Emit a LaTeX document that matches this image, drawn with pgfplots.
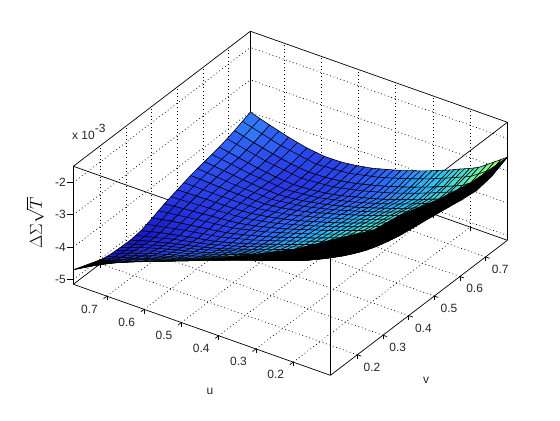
\documentclass[border=0pt]{standalone}
\usepackage{pgfplots}
\pgfplotsset{compat=1.18}
\usepackage{fontspec}
\setmainfont{Liberation Sans}

\begin{document}
\begin{tikzpicture}[x=1bp,y=1bp]
\path[use as bounding box] (0,0) rectangle (560,420);
\begin{axis}[name=ax,at={(330.4bp,162.7bp)},anchor=origin,
  x={(256.5bp,195.7bp)},y={(-372.5bp,131.9bp)},z={(0bp,32.33bp)},
  xmin=0.095,xmax=0.785,ymin=0.1,ymax=0.79,zmin=-5.15,zmax=-1.5,
  clip=false,
  /pgf/number format/assume math mode=true,
  xtick={0.2,0.3,0.4,0.5,0.6,0.7},ytick={0.2,0.3,0.4,0.5,0.6,0.7},ztick={-5,-4,-3,-2},
  tickpos=left,
  tick label style={font=\fontsize{12}{13}\selectfont,color=black!85},
  xticklabel style={xshift=3bp},yticklabel style={xshift=-9bp},
  grid=major,grid style={black,dash pattern=on 0.8bp off 2.8bp,line width=0.7bp},
  axis line style={line width=0.7bp},
  tick style={black,line width=0.7bp},
  ztick style={draw=none},
  tick align=outside,
  colormap={mine}{rgb255=(20,20,190) rgb255=(40,55,230) rgb255=(48,110,250) rgb255=(45,190,245)
    rgb255=(85,235,190) rgb255=(150,255,110) rgb255=(225,245,45) rgb255=(240,130,20) rgb255=(230,20,0)},
  point meta min=-5.15,point meta max=-1.5]
\draw[line width=0.7bp] (axis cs:0.095,0.79,-1.5)--(axis cs:0.095,0.1,-1.5)--(axis cs:0.785,0.1,-1.5);
\draw[line width=0.7bp] (axis cs:0.095,0.1,-5.15)--(axis cs:0.095,0.1,-1.5);
\draw[line width=0.7bp] (axis cs:0.095,0.79,-5)--++(-6bp,0bp);
\draw[line width=0.7bp] (axis cs:0.095,0.79,-4)--++(-6bp,0bp);
\draw[line width=0.7bp] (axis cs:0.095,0.79,-3)--++(-6bp,0bp);
\draw[line width=0.7bp] (axis cs:0.095,0.79,-2)--++(-6bp,0bp);
\addplot3[surf,shader=faceted,faceted color=black,line width=0.6bp,z buffer=sort,mesh/ordering=y varies,mesh/cols=17,mesh/rows=21] coordinates {
(.095,.1,-1.50)(.095,.117,-1.59)(.095,.135,-1.69)(.095,.155,-1.79)(.095,.177,-1.91)(.095,.201,-2.01)(.095,.228,-2.12)(.095,.255,-2.23)(.095,.286,-2.35)(.095,.317,-2.47)(.095,.35,-2.60)(.095,.386,-2.74)(.095,.424,-2.90)(.095,.462,-3.06)(.095,.504,-3.24)(.095,.546,-3.43)(.095,.591,-3.63)(.095,.638,-3.83)(.095,.687,-4.07)(.095,.738,-4.36)(.095,.79,-4.70)
(.119,.1,-1.63)(.119,.117,-1.72)(.119,.135,-1.83)(.119,.155,-1.93)(.119,.177,-2.05)(.119,.201,-2.15)(.119,.228,-2.27)(.119,.255,-2.38)(.119,.286,-2.50)(.119,.317,-2.62)(.119,.35,-2.75)(.119,.386,-2.90)(.119,.424,-3.06)(.119,.462,-3.22)(.119,.504,-3.40)(.119,.546,-3.58)(.119,.591,-3.78)(.119,.638,-3.97)(.119,.687,-4.20)(.119,.738,-4.48)(.119,.79,-4.80)
(.146,.1,-1.76)(.146,.117,-1.86)(.146,.135,-1.96)(.146,.155,-2.07)(.146,.177,-2.19)(.146,.201,-2.30)(.146,.228,-2.41)(.146,.255,-2.53)(.146,.286,-2.65)(.146,.317,-2.78)(.146,.35,-2.91)(.146,.386,-3.06)(.146,.424,-3.22)(.146,.462,-3.38)(.146,.504,-3.56)(.146,.546,-3.74)(.146,.591,-3.93)(.146,.638,-4.12)(.146,.687,-4.33)(.146,.738,-4.59)(.146,.79,-4.90)
(.175,.1,-1.89)(.175,.117,-1.99)(.175,.135,-2.10)(.175,.155,-2.21)(.175,.177,-2.34)(.175,.201,-2.44)(.175,.228,-2.56)(.175,.255,-2.68)(.175,.286,-2.80)(.175,.317,-2.93)(.175,.35,-3.07)(.175,.386,-3.21)(.175,.424,-3.37)(.175,.462,-3.53)(.175,.504,-3.71)(.175,.546,-3.89)(.175,.591,-4.07)(.175,.638,-4.25)(.175,.687,-4.45)(.175,.738,-4.69)(.175,.79,-4.98)
(.207,.1,-2.02)(.207,.117,-2.12)(.207,.135,-2.23)(.207,.155,-2.35)(.207,.177,-2.48)(.207,.201,-2.59)(.207,.228,-2.71)(.207,.255,-2.83)(.207,.286,-2.95)(.207,.317,-3.08)(.207,.35,-3.22)(.207,.386,-3.36)(.207,.424,-3.52)(.207,.462,-3.68)(.207,.504,-3.86)(.207,.546,-4.03)(.207,.591,-4.21)(.207,.638,-4.37)(.207,.687,-4.56)(.207,.738,-4.79)(.207,.79,-5.05)
(.241,.1,-2.15)(.241,.117,-2.25)(.241,.135,-2.37)(.241,.155,-2.48)(.241,.177,-2.62)(.241,.201,-2.73)(.241,.228,-2.85)(.241,.255,-2.97)(.241,.286,-3.10)(.241,.317,-3.23)(.241,.35,-3.37)(.241,.386,-3.52)(.241,.424,-3.67)(.241,.462,-3.83)(.241,.504,-4.00)(.241,.546,-4.17)(.241,.591,-4.34)(.241,.638,-4.49)(.241,.687,-4.66)(.241,.738,-4.86)(.241,.79,-5.10)
(.278,.1,-2.26)(.278,.117,-2.37)(.278,.135,-2.48)(.278,.155,-2.60)(.278,.177,-2.74)(.278,.201,-2.86)(.278,.228,-2.98)(.278,.255,-3.10)(.278,.286,-3.23)(.278,.317,-3.36)(.278,.35,-3.50)(.278,.386,-3.65)(.278,.424,-3.80)(.278,.462,-3.96)(.278,.504,-4.12)(.278,.546,-4.29)(.278,.591,-4.44)(.278,.638,-4.58)(.278,.687,-4.73)(.278,.738,-4.91)(.278,.79,-5.12)
(.317,.1,-2.36)(.317,.117,-2.47)(.317,.135,-2.59)(.317,.155,-2.71)(.317,.177,-2.86)(.317,.201,-2.97)(.317,.228,-3.09)(.317,.255,-3.22)(.317,.286,-3.35)(.317,.317,-3.48)(.317,.35,-3.62)(.317,.386,-3.77)(.317,.424,-3.92)(.317,.462,-4.08)(.317,.504,-4.24)(.317,.546,-4.40)(.317,.591,-4.54)(.317,.638,-4.67)(.317,.687,-4.80)(.317,.738,-4.95)(.317,.79,-5.13)
(.359,.1,-2.45)(.359,.117,-2.56)(.359,.135,-2.68)(.359,.155,-2.81)(.359,.177,-2.96)(.359,.201,-3.07)(.359,.228,-3.20)(.359,.255,-3.32)(.359,.286,-3.46)(.359,.317,-3.59)(.359,.35,-3.72)(.359,.386,-3.87)(.359,.424,-4.02)(.359,.462,-4.17)(.359,.504,-4.33)(.359,.546,-4.47)(.359,.591,-4.61)(.359,.638,-4.71)(.359,.687,-4.82)(.359,.738,-4.94)(.359,.79,-5.09)
(.403,.1,-2.52)(.403,.117,-2.63)(.403,.135,-2.76)(.403,.155,-2.88)(.403,.177,-3.03)(.403,.201,-3.15)(.403,.228,-3.27)(.403,.255,-3.39)(.403,.286,-3.52)(.403,.317,-3.65)(.403,.35,-3.79)(.403,.386,-3.93)(.403,.424,-4.07)(.403,.462,-4.22)(.403,.504,-4.36)(.403,.546,-4.49)(.403,.591,-4.61)(.403,.638,-4.69)(.403,.687,-4.77)(.403,.738,-4.85)(.403,.79,-4.96)
(.45,.1,-2.58)(.45,.117,-2.70)(.45,.135,-2.82)(.45,.155,-2.95)(.45,.177,-3.10)(.45,.201,-3.21)(.45,.228,-3.33)(.45,.255,-3.45)(.45,.286,-3.58)(.45,.317,-3.71)(.45,.35,-3.84)(.45,.386,-3.97)(.45,.424,-4.11)(.45,.462,-4.25)(.45,.504,-4.38)(.45,.546,-4.50)(.45,.591,-4.60)(.45,.638,-4.65)(.45,.687,-4.70)(.45,.738,-4.75)(.45,.79,-4.81)
(.5,.1,-2.65)(.5,.117,-2.77)(.5,.135,-2.89)(.5,.155,-3.02)(.5,.177,-3.18)(.5,.201,-3.29)(.5,.228,-3.41)(.5,.255,-3.53)(.5,.286,-3.65)(.5,.317,-3.78)(.5,.35,-3.91)(.5,.386,-4.04)(.5,.424,-4.17)(.5,.462,-4.30)(.5,.504,-4.42)(.5,.546,-4.52)(.5,.591,-4.60)(.5,.638,-4.64)(.5,.687,-4.65)(.5,.738,-4.66)(.5,.79,-4.68)
(.552,.1,-2.73)(.552,.117,-2.85)(.552,.135,-2.98)(.552,.155,-3.11)(.552,.177,-3.26)(.552,.201,-3.38)(.552,.228,-3.49)(.552,.255,-3.61)(.552,.286,-3.74)(.552,.317,-3.86)(.552,.35,-3.98)(.552,.386,-4.11)(.552,.424,-4.23)(.552,.462,-4.36)(.552,.504,-4.47)(.552,.546,-4.56)(.552,.591,-4.62)(.552,.638,-4.62)(.552,.687,-4.61)(.552,.738,-4.58)(.552,.79,-4.55)
(.606,.1,-2.82)(.606,.117,-2.94)(.606,.135,-3.07)(.606,.155,-3.21)(.606,.177,-3.37)(.606,.201,-3.48)(.606,.228,-3.59)(.606,.255,-3.72)(.606,.286,-3.84)(.606,.317,-3.96)(.606,.35,-4.08)(.606,.386,-4.21)(.606,.424,-4.33)(.606,.462,-4.44)(.606,.504,-4.54)(.606,.546,-4.62)(.606,.591,-4.66)(.606,.638,-4.64)(.606,.687,-4.59)(.606,.738,-4.52)(.606,.79,-4.45)
(.664,.1,-2.88)(.664,.117,-3.01)(.664,.135,-3.14)(.664,.155,-3.28)(.664,.177,-3.44)(.664,.201,-3.56)(.664,.228,-3.67)(.664,.255,-3.80)(.664,.286,-3.92)(.664,.317,-4.05)(.664,.35,-4.17)(.664,.386,-4.29)(.664,.424,-4.40)(.664,.462,-4.52)(.664,.504,-4.61)(.664,.546,-4.67)(.664,.591,-4.70)(.664,.638,-4.66)(.664,.687,-4.58)(.664,.738,-4.47)(.664,.79,-4.35)
(.723,.1,-2.80)(.723,.117,-2.93)(.723,.135,-3.07)(.723,.155,-3.22)(.723,.177,-3.39)(.723,.201,-3.51)(.723,.228,-3.63)(.723,.255,-3.76)(.723,.286,-3.89)(.723,.317,-4.02)(.723,.35,-4.14)(.723,.386,-4.27)(.723,.424,-4.39)(.723,.462,-4.50)(.723,.504,-4.59)(.723,.546,-4.65)(.723,.591,-4.67)(.723,.638,-4.61)(.723,.687,-4.50)(.723,.738,-4.36)(.723,.79,-4.20)
(.785,.1,-2.58)(.785,.117,-2.72)(.785,.135,-2.87)(.785,.155,-3.03)(.785,.177,-3.21)(.785,.201,-3.34)(.785,.228,-3.47)(.785,.255,-3.61)(.785,.286,-3.75)(.785,.317,-3.89)(.785,.35,-4.02)(.785,.386,-4.16)(.785,.424,-4.28)(.785,.462,-4.40)(.785,.504,-4.49)(.785,.546,-4.55)(.785,.591,-4.56)(.785,.638,-4.49)(.785,.687,-4.36)(.785,.738,-4.19)(.785,.79,-4.00)
};
% finer mesh lines between the cells, v constant
\addplot3[black,line width=0.6bp,unbounded coords=jump] coordinates {
(.191,.1,-1.955)(.191,.135,-2.165)(.191,.177,-2.41)(.191,.228,-2.635)(.191,.286,-2.875)(.191,.35,-3.145)(.191,.424,-3.445)(.191,.504,-3.785)(.191,.591,-4.14)(.191,.687,-4.505)(.191,.79,-5.015)(.191,.79,nan)
(.224,.1,-2.085)(.224,.135,-2.30)(.224,.177,-2.55)(.224,.228,-2.78)(.224,.286,-3.025)(.224,.35,-3.295)(.224,.424,-3.595)(.224,.504,-3.93)(.224,.591,-4.275)(.224,.687,-4.61)(.224,.79,-5.075)(.224,.79,nan)
(.26,.1,-2.205)(.26,.135,-2.425)(.26,.177,-2.68)(.26,.228,-2.915)(.26,.286,-3.165)(.26,.35,-3.435)(.26,.424,-3.735)(.26,.504,-4.06)(.26,.591,-4.39)(.26,.687,-4.695)(.26,.79,-5.11)(.26,.79,nan)
(.298,.1,-2.31)(.298,.135,-2.535)(.298,.177,-2.80)(.298,.228,-3.035)(.298,.286,-3.29)(.298,.35,-3.56)(.298,.424,-3.86)(.298,.504,-4.18)(.298,.591,-4.49)(.298,.687,-4.765)(.298,.79,-5.125)(.298,.79,nan)
(.338,.1,-2.405)(.338,.135,-2.635)(.338,.177,-2.91)(.338,.228,-3.145)(.338,.286,-3.405)(.338,.35,-3.67)(.338,.424,-3.97)(.338,.504,-4.285)(.338,.591,-4.575)(.338,.687,-4.81)(.338,.79,-5.11)(.338,.79,nan)
(.381,.1,-2.485)(.381,.135,-2.72)(.381,.177,-2.995)(.381,.228,-3.235)(.381,.286,-3.49)(.381,.35,-3.755)(.381,.424,-4.045)(.381,.504,-4.345)(.381,.591,-4.61)(.381,.687,-4.795)(.381,.79,-5.025)(.381,.79,nan)
(.427,.1,-2.55)(.427,.135,-2.79)(.427,.177,-3.065)(.427,.228,-3.30)(.427,.286,-3.55)(.427,.35,-3.815)(.427,.424,-4.09)(.427,.504,-4.37)(.427,.591,-4.605)(.427,.687,-4.735)(.427,.79,-4.885)(.427,.79,nan)
(.475,.1,-2.615)(.475,.135,-2.855)(.475,.177,-3.14)(.475,.228,-3.37)(.475,.286,-3.615)(.475,.35,-3.875)(.475,.424,-4.14)(.475,.504,-4.40)(.475,.591,-4.60)(.475,.687,-4.675)(.475,.79,-4.745)(.475,.79,nan)
(.526,.1,-2.69)(.526,.135,-2.935)(.526,.177,-3.22)(.526,.228,-3.45)(.526,.286,-3.695)(.526,.35,-3.945)(.526,.424,-4.20)(.526,.504,-4.445)(.526,.591,-4.61)(.526,.687,-4.63)(.526,.79,-4.615)(.526,.79,nan)
(.579,.1,-2.775)(.579,.135,-3.025)(.579,.177,-3.315)(.579,.228,-3.54)(.579,.286,-3.79)(.579,.35,-4.03)(.579,.424,-4.28)(.579,.504,-4.505)(.579,.591,-4.64)(.579,.687,-4.60)(.579,.79,-4.50)(.579,.79,nan)
(.635,.1,-2.85)(.635,.135,-3.105)(.635,.177,-3.405)(.635,.228,-3.63)(.635,.286,-3.88)(.635,.35,-4.125)(.635,.424,-4.365)(.635,.504,-4.575)(.635,.591,-4.68)(.635,.687,-4.585)(.635,.79,-4.40)(.635,.79,nan)
(.694,.1,-2.84)(.694,.135,-3.105)(.694,.177,-3.415)(.694,.228,-3.65)(.694,.286,-3.905)(.694,.35,-4.155)(.694,.424,-4.395)(.694,.504,-4.60)(.694,.591,-4.685)(.694,.687,-4.54)(.694,.79,-4.275)(.694,.79,nan)
(.754,.1,-2.69)(.754,.135,-2.97)(.754,.177,-3.30)(.754,.228,-3.55)(.754,.286,-3.82)(.754,.35,-4.08)(.754,.424,-4.335)(.754,.504,-4.54)(.754,.591,-4.615)(.754,.687,-4.43)(.754,.79,-4.10)
};
% finer mesh lines, u constant
\addplot3[black,line width=0.6bp,unbounded coords=jump] coordinates {
(.095,.189,-1.96)(.146,.189,-2.245)(.207,.189,-2.535)(.278,.189,-2.80)(.359,.189,-3.015)(.45,.189,-3.155)(.552,.189,-3.32)(.664,.189,-3.50)(.785,.189,-3.275)(.785,.189,nan)
(.095,.215,-2.065)(.146,.215,-2.355)(.207,.215,-2.65)(.278,.215,-2.92)(.359,.215,-3.135)(.45,.215,-3.27)(.552,.215,-3.435)(.664,.215,-3.615)(.785,.215,-3.405)(.785,.215,nan)
(.095,.242,-2.175)(.146,.242,-2.47)(.207,.242,-2.77)(.278,.242,-3.04)(.359,.242,-3.26)(.45,.242,-3.39)(.552,.242,-3.55)(.664,.242,-3.735)(.785,.242,-3.54)(.785,.242,nan)
(.095,.271,-2.29)(.146,.271,-2.59)(.207,.271,-2.89)(.278,.271,-3.165)(.359,.271,-3.39)(.45,.271,-3.515)(.552,.271,-3.675)(.664,.271,-3.86)(.785,.271,-3.68)(.785,.271,nan)
(.095,.302,-2.41)(.146,.302,-2.715)(.207,.302,-3.015)(.278,.302,-3.295)(.359,.302,-3.525)(.45,.302,-3.645)(.552,.302,-3.80)(.664,.302,-3.985)(.785,.302,-3.82)(.785,.302,nan)
(.095,.334,-2.535)(.146,.334,-2.845)(.207,.334,-3.15)(.278,.334,-3.43)(.359,.334,-3.655)(.45,.334,-3.775)(.552,.334,-3.92)(.664,.334,-4.11)(.785,.334,-3.955)(.785,.334,nan)
(.095,.368,-2.67)(.146,.368,-2.985)(.207,.368,-3.29)(.278,.368,-3.575)(.359,.368,-3.795)(.45,.368,-3.905)(.552,.368,-4.045)(.664,.368,-4.23)(.785,.368,-4.09)(.785,.368,nan)
(.095,.405,-2.82)(.146,.405,-3.14)(.207,.405,-3.44)(.278,.405,-3.725)(.359,.405,-3.945)(.45,.405,-4.04)(.552,.405,-4.17)(.664,.405,-4.345)(.785,.405,-4.22)(.785,.405,nan)
(.095,.443,-2.98)(.146,.443,-3.30)(.207,.443,-3.60)(.278,.443,-3.88)(.359,.443,-4.095)(.45,.443,-4.18)(.552,.443,-4.295)(.664,.443,-4.46)(.785,.443,-4.34)(.785,.443,nan)
(.095,.483,-3.15)(.146,.483,-3.47)(.207,.483,-3.77)(.278,.483,-4.04)(.359,.483,-4.25)(.45,.483,-4.315)(.552,.483,-4.415)(.664,.483,-4.565)(.785,.483,-4.445)(.785,.483,nan)
(.095,.525,-3.335)(.146,.525,-3.65)(.207,.525,-3.945)(.278,.525,-4.205)(.359,.525,-4.40)(.45,.525,-4.44)(.552,.525,-4.515)(.664,.525,-4.64)(.785,.525,-4.52)(.785,.525,nan)
(.095,.569,-3.53)(.146,.569,-3.835)(.207,.569,-4.12)(.278,.569,-4.365)(.359,.569,-4.54)(.45,.569,-4.55)(.552,.569,-4.59)(.664,.569,-4.685)(.785,.569,-4.555)(.785,.569,nan)
(.095,.615,-3.73)(.146,.615,-4.025)(.207,.615,-4.29)(.278,.615,-4.51)(.359,.615,-4.66)(.45,.615,-4.625)(.552,.615,-4.62)(.664,.615,-4.68)(.785,.615,-4.525)(.785,.615,nan)
(.095,.663,-3.95)(.146,.663,-4.225)(.207,.663,-4.465)(.278,.663,-4.655)(.359,.663,-4.765)(.45,.663,-4.675)(.552,.663,-4.615)(.664,.663,-4.62)(.785,.663,-4.425)(.785,.663,nan)
(.095,.713,-4.215)(.146,.713,-4.46)(.207,.713,-4.675)(.278,.713,-4.82)(.359,.713,-4.88)(.45,.713,-4.725)(.552,.713,-4.595)(.664,.713,-4.525)(.785,.713,-4.275)(.785,.713,nan)
(.095,.764,-4.53)(.146,.764,-4.745)(.207,.764,-4.92)(.278,.764,-5.015)(.359,.764,-5.015)(.45,.764,-4.78)(.552,.764,-4.565)(.664,.764,-4.41)(.785,.764,-4.095)
};
% the band where the mesh lines close up and read as solid black
\addplot3[fill=black,draw=black,line width=0.6bp] coordinates {
(.785,.1,-2.58)(.723,.155,-3.22)(.664,.201,-3.56)(.552,.228,-3.49)(.45,.228,-3.33)(.403,.286,-3.52)(.317,.35,-3.62)(.207,.462,-3.68)(.146,.591,-3.93)(.119,.687,-4.20)(.207,.79,-5.05)(.095,.79,-4.70)
(.095,.738,-4.36)(.095,.687,-4.07)(.095,.591,-3.63)(.095,.504,-3.24)(.095,.424,-2.90)(.095,.35,-2.60)(.095,.286,-2.35)(.095,.228,-2.12)(.095,.177,-1.91)(.095,.135,-1.69)(.095,.1,-1.5)
(.146,.1,-1.76)(.207,.1,-2.02)(.278,.1,-2.26)(.359,.1,-2.45)(.45,.1,-2.58)(.552,.1,-2.73)(.664,.1,-2.88)(.723,.1,-2.80)(.785,.1,-2.58)
};
\end{axis}
\node[font=\fontsize{12}{13}\selectfont,color=black!85] at (210,29) {u};
\node[font=\fontsize{12}{13}\selectfont,color=black!85] at (426,40) {v};
\node[font=\fontsize{17}{18}\selectfont,rotate=90] at (35,197) {$\Delta\Sigma\sqrt{T}$};
\node[font=\fontsize{12}{13}\selectfont,color=black!85,anchor=west,inner sep=0pt] at (72,288) {x 10\raisebox{7bp}{-3}};
\end{tikzpicture}
\end{document}
